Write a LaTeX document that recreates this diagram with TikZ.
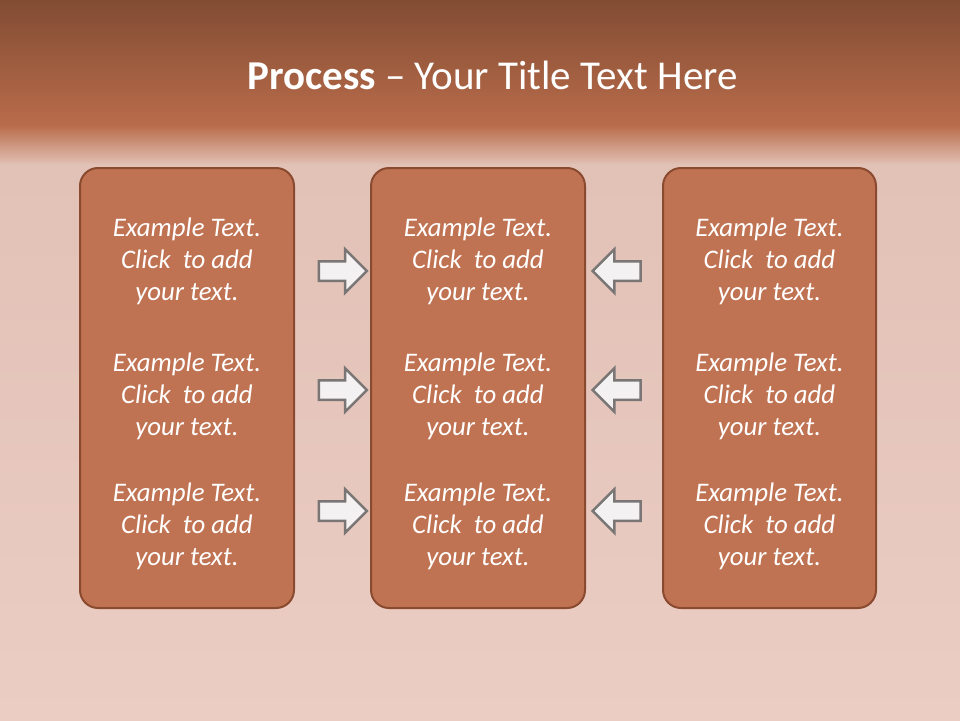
\documentclass[tikz,border=0pt]{standalone}
\usepackage{fontspec}
\setmainfont{Carlito}
\usetikzlibrary{shapes.arrows}
\definecolor{hdrtop}{HTML}{824C34}
\definecolor{hdrbot}{HTML}{B96C4A}
\definecolor{bgtop}{HTML}{E2C1B6}
\definecolor{bgbot}{HTML}{EBCDC4}
\definecolor{boxfill}{HTML}{C07352}
\definecolor{boxline}{HTML}{8A4A30}
\definecolor{arrfill}{HTML}{F3F1F1}
\definecolor{arrline}{HTML}{7A7675}
\tikzset{
  panel/.style={draw=boxline, line width=2pt, fill=boxfill, rounded corners=18pt},
  bodytext/.style={text=white, align=center, font=\fontsize{26.8}{32}\selectfont\itshape},
  blockarrow/.style={shape=single arrow, draw=arrline, fill=arrfill, line width=2.5pt,
    inner xsep=0pt, inner ysep=8.5pt, minimum height=48pt, single arrow head extend=12pt,
    single arrow head indent=0pt, text width=0pt},
}
\begin{document}
\begin{tikzpicture}[x=1pt,y=-1pt]
\useasboundingbox (0,0) rectangle (960,720);
% background
\shade[top color=hdrtop, bottom color=hdrbot] (0,0) rectangle (960,126);
\shade[top color=hdrbot, bottom color=bgtop] (0,125) rectangle (960,165);
\shade[top color=bgtop, bottom color=bgbot] (0,164) rectangle (960,720);
% title
\node[text=white, font=\fontsize{41}{44}\selectfont] (title) at (492.5,75) {\textbf{Process} -- Your Title Text Here};
% panels
\draw[panel] (80,168) rectangle (294,608);
\node[inner sep=0pt] (boxL) at (187,388) {};
\draw[panel] (371,168) rectangle (585,608);
\node[inner sep=0pt] (boxM) at (478,388) {};
\draw[panel] (663,168) rectangle (876,608);
\node[inner sep=0pt] (boxR) at (769.5,388) {};
% texts
\foreach \cx/\n in {187/L,478/M,769.5/R}{
  \foreach \cy/\k in {261/1,396/2,526/3}{
    \node[bodytext] (\n\k) at (\cx,\cy) {Example Text.\\Click\ \ to add\\your text.};
  }
}
% arrows
\foreach \ay/\k in {271/1,390/2,511/3}{
  \node[blockarrow] (ar\k) at (338,\ay) {};
  \node[blockarrow, shape border rotate=180] (al\k) at (621.5,\ay) {};
}
\end{tikzpicture}
\end{document}
